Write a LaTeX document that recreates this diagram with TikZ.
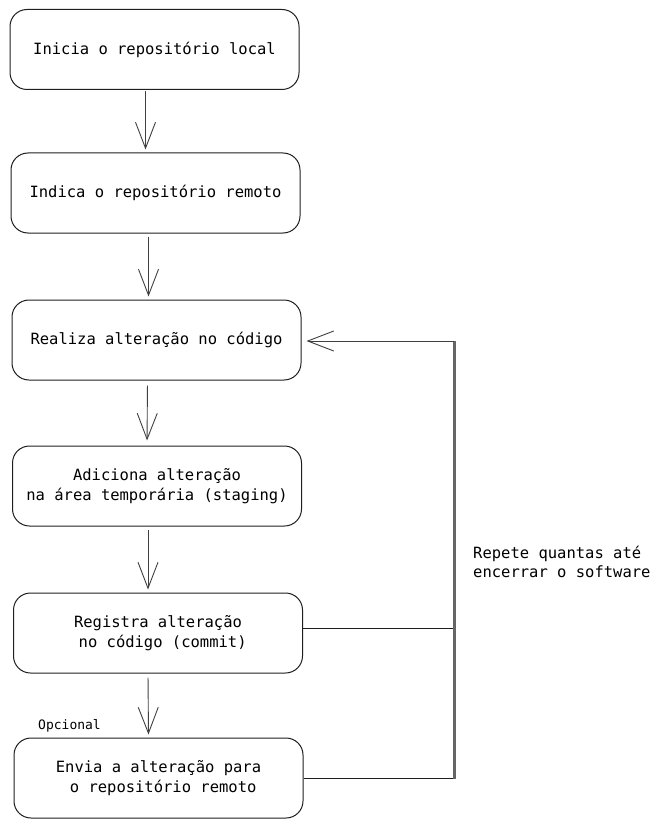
\documentclass[tikz,border=0pt]{standalone}
\usepackage{fontspec}
\setmonofont{DejaVu Sans Mono}
\usetikzlibrary{arrows.meta}
\definecolor{ink}{HTML}{1E1E1E}
\begin{document}
\begin{tikzpicture}[x=1pt,y=-1pt,
  box/.style={draw=ink, line width=1pt, rounded corners=17pt, minimum width=289pt, minimum height=80pt,
    align=center, inner sep=0pt, font=\ttfamily\fontsize{15.5}{20}\selectfont, text=black},
  arr/.style={draw=ink!85, line width=0.9pt, -{Straight Barb[length=26pt,width=20pt,line width=0.9pt]}},
  conn/.style={draw=ink, line width=1pt},
  loopline/.style={draw=black!60, line width=3pt},
  note/.style={font=\ttfamily\fontsize{15.5}{19.5}\selectfont, text=black, align=left, inner sep=0pt},
  small/.style={font=\ttfamily\fontsize{13}{15}\selectfont, text=black, inner sep=0pt}]
\useasboundingbox (0,0) rectangle (661,829);
\node[box] (b1) at (154.5,49.5) {Inicia o repositório local};
\node[box] (b2) at (155.5,193) {Indica o repositório remoto};
\node[box] (b3) at (156.5,340) {Realiza alteração no código};
\node[box] (b4) at (157,486) {Adiciona alteração\\na área temporária (staging)};
\node[box] (b5) at (158,633) {Registra alteração\\\ no código (commit)};
\node[box] (b6) at (158.5,778) {Envia a alteração para\\\ o repositório remoto};
\node[small, anchor=west] (opt) at (38,726) {Opcional};
\node[note, anchor=west] (rep) at (473,562) {Repete quantas até\\encerrar o software};
% flow arrows
\draw[arr, shorten <=1pt, shorten >=3pt] ([xshift=-9pt]b1.south) -- ([xshift=-10pt]b2.north);
\draw[arr, shorten <=3pt, shorten >=3pt] ([xshift=-7pt]b2.south) -- ([xshift=-8pt]b3.north);
\draw[arr, shorten <=5pt, shorten >=5pt] ([xshift=-9pt]b3.south) -- ([xshift=-10pt]b4.north);
\draw[arr, shorten <=3pt, shorten >=3pt] ([xshift=-9pt]b4.south) -- ([xshift=-10pt]b5.north);
\draw[arr, shorten <=4pt, shorten >=3pt] ([xshift=-10pt]b5.south) -- ([xshift=-10pt]b6.north);
% loop
\coordinate (lt) at (454,341);
\coordinate (lb) at (454,779);
\draw[conn] ([yshift=5pt]b5.east) -- ([yshift=5pt]b5.east -| lt);
\draw[conn] (b6.east) -- (b6.east -| lt);
\draw[loopline] (lt) -- (lb);
\draw[arr, shorten >=5pt] (lt) -- (b3.east |- lt);
\end{tikzpicture}
\end{document}
